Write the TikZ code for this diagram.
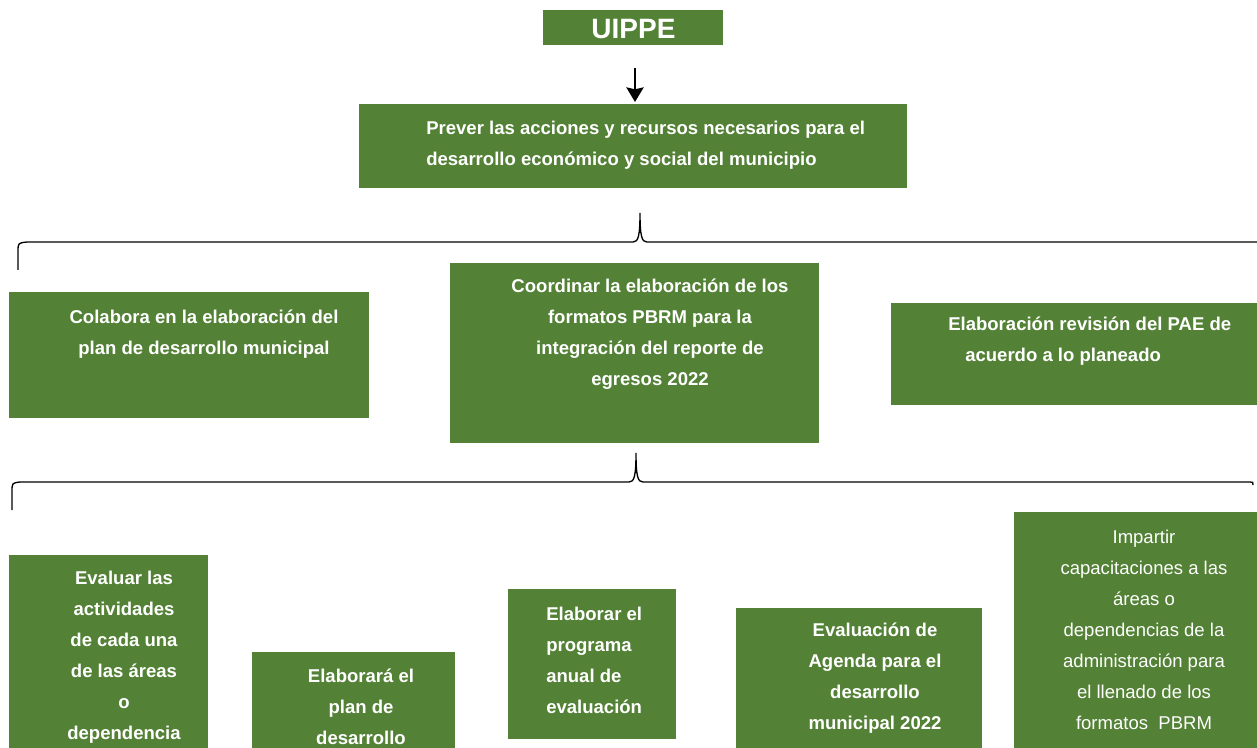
\documentclass[tikz,border=0pt]{standalone}
\usepackage{fontspec}
\setmainfont{Liberation Sans}
\usetikzlibrary{arrows.meta,fit}
\definecolor{boxgreen}{HTML}{538135}
\begin{document}
\begin{tikzpicture}[x=0.75pt,y=-0.75pt,
  gbox/.style={fill=boxgreen,draw=none,inner sep=0pt,outer sep=0pt},
  txt/.style={text=white,inner sep=0pt,align=center,font=\bfseries\fontsize{13.9pt}{23.25pt}\selectfont},
  plaintxt/.style={text=white,inner sep=0pt,align=center,font=\fontsize{13.9pt}{23.25pt}\selectfont},
  bigtxt/.style={text=white,inner sep=0pt,font=\bfseries\fontsize{21pt}{24pt}\selectfont},
  brace/.style={draw=black,line width=1pt},
  arr/.style={draw=black,line width=1.1pt,-{Stealth[length=11pt,width=13pt,inset=1.5pt]}}]
\useasboundingbox (0,0) rectangle (1257,748);
% boxes
\node[gbox,fit={(543,10) (723,45)}] (U) {};
\node[gbox,fit={(359,104) (907,188)}] (P) {};
\node[gbox,fit={(9,292) (369,418)}] (A) {};
\node[gbox,fit={(450,263) (819,443)}] (B) {};
\node[gbox,fit={(891,303) (1257,405)}] (C) {};
\node[gbox,fit={(9,555) (208,748)}] (D) {};
\node[gbox,fit={(252,652) (455,748)}] (E) {};
\node[gbox,fit={(508,589) (676,739)}] (F) {};
\node[gbox,fit={(736,608) (982,748)}] (G) {};
\node[gbox,fit={(1014,512) (1257,748)}] (H) {};
% texts
\node[bigtxt] (Ut) at (633.5,29) {UIPPE};
\node[txt,align=left,anchor=west] (Pt) at (426,145) {Prever las acciones y recursos necesarios para el\\desarrollo económico y social del municipio};
\node[txt] (At) at (204,334) {Colabora en la elaboración del\\plan de desarrollo municipal};
\node[txt] (Bt) at (650,334) {Coordinar la elaboración de los\\formatos PBRM para la\\integración del reporte de\\egresos 2022};
\node[txt,align=left,anchor=west] (Ct) at (948,341) {Elaboración revisión del PAE de\\\hspace*{12.75pt}acuerdo a lo planeado};
\node[txt] (Dt) at (124,657) {Evaluar las\\actividades\\de cada una\\de las áreas\\o\\dependencia};
\node[txt] (Et) at (361,707) {Elaborará el\\plan de\\desarrollo};
\node[txt,align=left,anchor=west] (Ft) at (546,660) {Elaborar el\\programa\\anual de\\evaluación};
\node[txt] (Gt) at (875,678.5) {Evaluación de\\Agenda para el\\desarrollo\\municipal 2022};
\node[plaintxt] (Ht) at (1144,629.5) {Impartir\\capacitaciones a las\\áreas o\\dependencias de la\\administración para\\el llenado de los\\formatos\ \ PBRM};
% arrow
\coordinate (astart) at (635,68);
\draw[arr] (astart) -- ([yshift=1.5pt]P.north -| astart);
% braces
\coordinate (b1l) at (18,270);
\coordinate (b1p) at (640,213);
\coordinate (b1r) at (1257,242);
\draw[brace] (b1l) -- (18,252) .. controls (18,243) .. (27,242) -- (633,242)
  .. controls (638,242) and (640,237) .. (b1p)
  .. controls (640,237) and (642,242) .. (647,242) -- (b1r);
\coordinate (b2l) at (12,510);
\coordinate (b2p) at (636,453);
\coordinate (b2r) at (1253,485);
\draw[brace] (b2l) -- (12,492) .. controls (12,483) .. (20,482) -- (629,482)
  .. controls (634,482) and (636,477) .. (b2p)
  .. controls (636,477) and (638,482) .. (643,482) -- (1250,482)
  .. controls (1253,482) .. (b2r);
\end{tikzpicture}
\end{document}
